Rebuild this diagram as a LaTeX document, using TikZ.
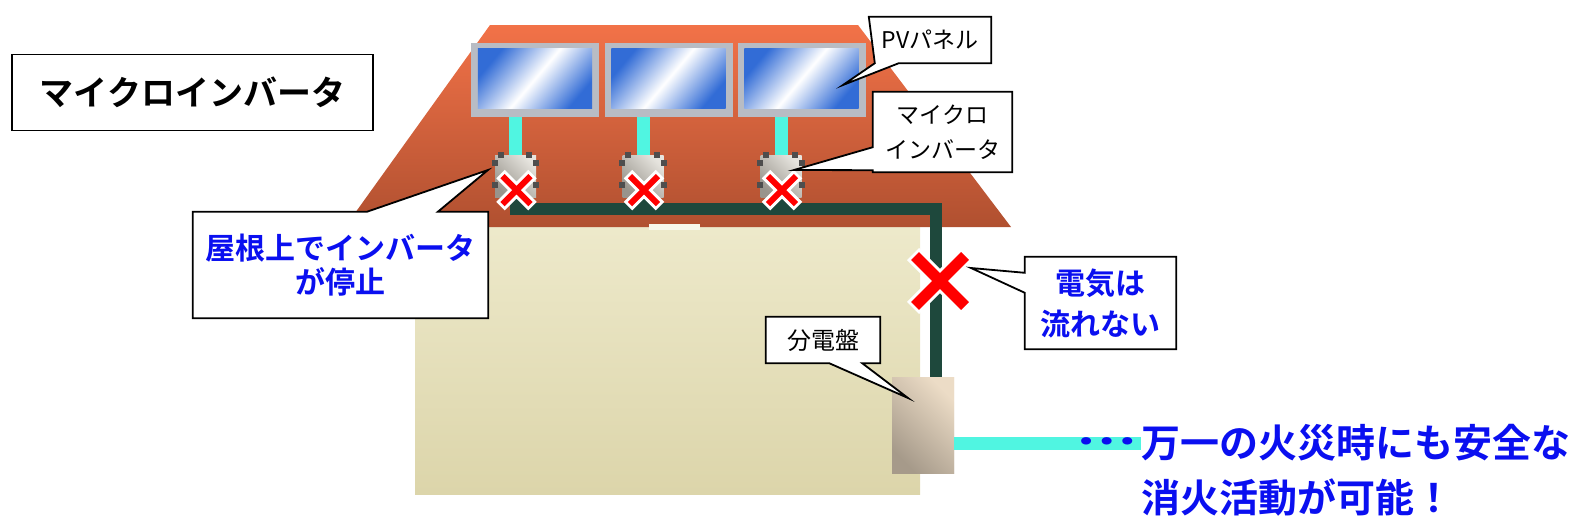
\documentclass[tikz,border=0pt]{standalone}
\usepackage{fontspec}
\usetikzlibrary{calc}
\newfontfamily\jp{Noto Sans CJK JP}
\newfontfamily\jpb{Noto Sans CJK JP Bold}

\definecolor{roofTop}{RGB}{242,114,72}
\definecolor{roofBot}{RGB}{176,80,48}
\definecolor{wallTop}{RGB}{238,234,204}
\definecolor{wallBot}{RGB}{220,213,170}
\definecolor{frameGray}{RGB}{184,188,196}
\definecolor{glassBlue}{RGB}{50,108,214}
\definecolor{dcCyan}{RGB}{80,245,225}
\definecolor{wireGreen}{RGB}{30,72,60}
\definecolor{boardLight}{RGB}{236,220,198}
\definecolor{boardDark}{RGB}{166,154,138}
\definecolor{invLight}{RGB}{230,228,222}
\definecolor{invDark}{RGB}{152,148,140}
\definecolor{tabGray}{RGB}{78,78,78}
\definecolor{xRed}{RGB}{255,0,0}
\definecolor{msgBlue}{RGB}{10,15,240}

\pgfdeclarelayer{notebg}
\pgfdeclarelayer{notefg}
\pgfsetlayers{main,notebg,notefg}

\tikzset{
  panel/.style={fill=frameGray, minimum width=128pt, minimum height=74pt, inner sep=0},
  glass/.style={left color=glassBlue, right color=glassBlue, middle color=white, shading angle=50},
  inverter/.style={left color=invDark, right color=invLight, shading angle=135,
                   minimum width=41pt, minimum height=42pt, inner sep=0},
  board/.style={left color=boardDark, right color=boardLight, shading angle=135,
                minimum width=62pt, minimum height=96pt, inner sep=0},
  dcline/.style={draw=dcCyan, line width=13pt},
  acline/.style={draw=dcCyan, line width=13pt},
  wire/.style={draw=wireGreen, line width=12pt, line join=miter},
  tabbox/.style={fill=tabGray},
  note/.style={inner sep=0, align=center},
  notebox/.style={draw=black, line width=1.8pt, fill=white, line join=miter},
  blacknote/.style={note, font=\jp\fontsize{23}{35}\selectfont},
  bluenote/.style={note, text=msgBlue, font=\jpb\fontsize{30}{34}\selectfont},
  bigmsg/.style={inner sep=0, anchor=west, text=msgBlue, font=\jpb\fontsize{39}{44}\selectfont},
  pics/xmark/.style args={#1/#2/#3}{code={
    \draw[white, line width=#3pt] (-#1-2,-#1-2) -- (#1+2,#1+2) (-#1-2,#1+2) -- (#1+2,-#1-2);
    \draw[xRed, line width=#2pt] (-#1,-#1) -- (#1,#1) (-#1,#1) -- (#1,-#1);
  }}
}

\begin{document}
\begin{tikzpicture}[x=1pt, y=-1pt]
\useasboundingbox (0,0) rectangle (1574,525);

% house wall and roof
\shade[top color=wallTop, bottom color=wallBot] (415,215) rectangle (920,494);
\shade[top color=roofTop, bottom color=roofBot] (490,25) -- (858,25) -- (1011,227) -- (345,227) -- cycle;
\fill[wallTop!40!white] (649,224) rectangle (700,230);

% solar panels
\node[panel] (pv1) at (535,80) {};
\node[panel] (pv2) at (668.5,80) {};
\node[panel] (pv3) at (801.5,80) {};
\foreach \i in {1,2,3}
  \shade[glass] ($(pv\i.north west)+(7,6)$) rectangle ($(pv\i.south east)+(-7,-9)$);

% inverter positions
\coordinate (i1) at (515.5,176);
\coordinate (i2) at (643,176);
\coordinate (i3) at (781,176);
\coordinate (bend) at (935.5,209);

% distribution board
\node[board] (board) at (923,425) {};

% DC stubs from panels to inverters
\foreach \i in {1,2,3}
  \draw[dcline] (i\i) -- (i\i |- pv\i.south);

% AC wiring on the roof and down the wall
\draw[wire] (i1) |- (bend) -- (bend |- board.north);
\draw[wire] (i2) -- (i2 |- bend);
\draw[wire] (i3) -- (i3 |- bend);
\node[board] at (board) {};

% micro inverters
\foreach \i in {1,2,3} {
  \node[inverter] (inv\i) at (i\i) {};
  \fill[tabbox] ($(inv\i.north west)+(3,-3)$) rectangle +(6,6);
  \fill[tabbox] ($(inv\i.north east)+(-10,-3)$) rectangle +(6,6);
  \fill[tabbox] ($(inv\i.north west)+(-3,5)$) rectangle +(6,6);
  \fill[tabbox] ($(inv\i.north west)+(-3,27)$) rectangle +(6,6);
  \fill[tabbox] ($(inv\i.north east)+(-3,5)$) rectangle +(6,6);
  \fill[tabbox] ($(inv\i.north east)+(-3,27)$) rectangle +(6,6);
  \pic at ($(inv\i.south)+(1,-7)$) {xmark=14/6/12};
}

% line to the grid
\coordinate (acend) at (1141,443);
\draw[acline] ($(board.east)+(0,18)$) -- (acend);

% large cross on the house wiring
\pic at (940,281) {xmark=25/11/17};

% title
\node[draw, line width=1.6pt, minimum width=361pt, minimum height=76pt,
      font=\jpb\fontsize{34}{40}\selectfont] (title) at (192.5,92.5) {マイクロインバータ};

% message
\node[text=msgBlue, inner sep=0, font=\jpb\fontsize{39}{44}\selectfont] (dots) at (1107,441) {\scalebox{1.4}[1]{…}};
\node[bigmsg] (msg1) at (acend) {万一の火災時にも安全な};
\node[bigmsg] (msg2) at (1141,497) {消火活動が可能！};

% callout texts
\begin{pgfonlayer}{notefg}
\node[blacknote, minimum width=122pt, minimum height=46pt] (pvnote) at (930,40) {PVパネル};
\node[blacknote, minimum width=139pt, minimum height=80pt] (invnote) at (942.5,132) {マイクロ\\インバータ};
\node[bluenote, minimum width=295pt, minimum height=106pt] (roofnote) at (340.5,265) {屋根上でインバータ\\が停止};
\node[bluenote, minimum width=151pt, minimum height=92pt, font=\jpb\fontsize{30}{41}\selectfont] (flownote) at (1100.5,303) {電気は\\流れない};
\node[blacknote, minimum width=114pt, minimum height=46pt, font=\jp\fontsize{24}{30}\selectfont] (boardnote) at (823,340) {分電盤};
\end{pgfonlayer}

% callout pointer tips
\coordinate (pvtip) at (843,85);
\coordinate (invtip) at (794,170);
\coordinate (rooftip) at (488,170);
\coordinate (flowtip) at (971,268);
\coordinate (boardtip) at (908,398);

% callout outlines
\begin{pgfonlayer}{notebg}
\draw[notebox] (pvnote.north west) -- (pvnote.north east) -- (pvnote.south east)
  -- ($(pvnote.south west)+(30,0)$) -- (pvtip) -- ($(pvnote.south west)+(6,0)$) -- cycle;
\draw[notebox] (invnote.north west) -- (invnote.north east) -- (invnote.south east)
  -- (invnote.south west) -- ($(invnote.south west)+(0,-2)$) -- (invtip)
  -- ($(invnote.south west)+(0,-25)$) -- cycle;
\draw[notebox] (roofnote.north west) -- ($(roofnote.north west)+(174,0)$) -- (rooftip)
  -- ($(roofnote.north west)+(245,0)$) -- (roofnote.north east) -- (roofnote.south east)
  -- (roofnote.south west) -- cycle;
\draw[notebox] (flownote.north west) -- (flownote.north east) -- (flownote.south east)
  -- (flownote.south west) -- ($(flownote.north west)+(0,36)$) -- (flowtip)
  -- ($(flownote.north west)+(0,16)$) -- cycle;
\draw[notebox] (boardnote.north west) -- (boardnote.north east) -- (boardnote.south east)
  -- ($(boardnote.south east)+(-18,0)$) -- (boardtip) -- ($(boardnote.south east)+(-51,0)$)
  -- (boardnote.south west) -- cycle;
\end{pgfonlayer}
\end{tikzpicture}
\end{document}
